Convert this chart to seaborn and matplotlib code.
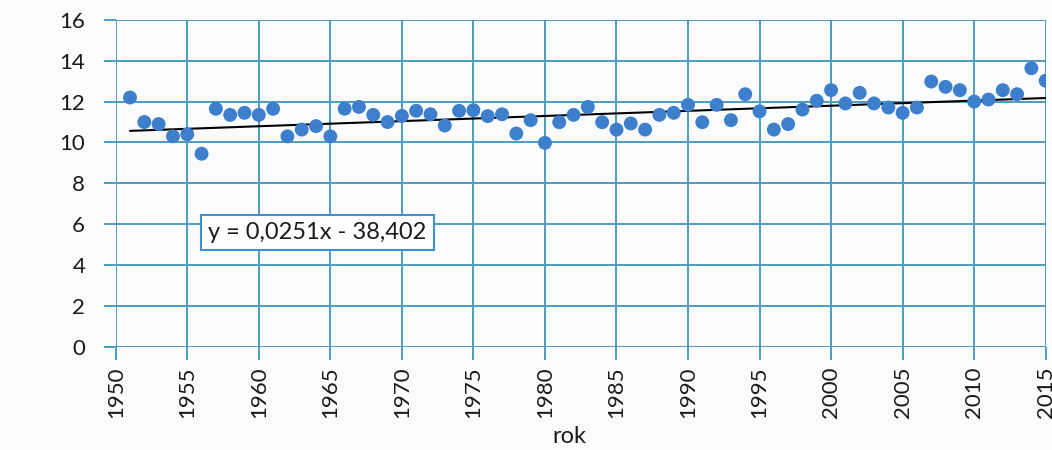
import numpy as np
import pandas as pd
import matplotlib
matplotlib.use("Agg")
import matplotlib.pyplot as plt
import seaborn as sns

years = list(range(1951, 2016))
values = [12.2, 11.0, 10.9, 10.3, 10.4, 9.45, 11.65, 11.35, 11.45, 11.35,
          11.65, 10.3, 10.63, 10.8, 10.3, 11.65, 11.74, 11.35, 11.0, 11.3,
          11.55, 11.38, 10.83, 11.55, 11.58, 11.29, 11.38, 10.44, 11.09, 9.98,
          10.99, 11.35, 11.74, 10.99, 10.63, 10.93, 10.63, 11.35, 11.45, 11.84,
          10.99, 11.84, 11.09, 12.36, 11.52, 10.63, 10.9, 11.61, 12.04, 12.56,
          11.91, 12.43, 11.91, 11.71, 11.45, 11.71, 12.98, 12.72, 12.56, 12.0,
          12.1, 12.56, 12.36, 13.63, 13.02]
slope = 0.0251
intercept = -38.402
equation_label = "y = 0,0251x - 38,402"
x_ticks = list(range(1950, 2016, 5))
y_ticks = list(range(0, 17, 2))
x_label = "rok"

df = pd.DataFrame({"rok": years, "val": values})
trend = pd.DataFrame({"rok": [years[0], years[-1]]})
trend["val"] = slope * trend["rok"] + intercept

sns.set_theme(style="whitegrid")
plt.rcParams['font.family'] = ['Lato', 'DejaVu Sans']

grid_color = "#4f9cbf"
text_color = "#1a1a1a"
fig = plt.figure(figsize=(10.52, 4.50), dpi=100)
fig.patch.set_facecolor("#fafbfd")
ax = fig.add_axes([0.110, 0.229, 0.884, 0.727])
ax.set_facecolor("#fafbfd")

sns.scatterplot(data=df, x="rok", y="val", ax=ax, color="#3d7fcc", s=100,
                edgecolor="none", zorder=3)
sns.lineplot(data=trend, x="rok", y="val", ax=ax, color="black", lw=1.5, zorder=2)

ax.set_xlim(1950, 2015)
ax.set_ylim(0, 16)
ax.set_xticks(x_ticks)
ax.set_yticks(y_ticks)
ax.set_xticklabels([str(t) for t in x_ticks], rotation=90, fontsize=16, color=text_color)
ax.set_yticklabels([str(t) for t in y_ticks], fontsize=16, color=text_color)
ax.grid(True, color=grid_color, lw=1.4)
for s in ax.spines.values():
    s.set_visible(False)
ax.tick_params(axis="both", length=9, width=1.4, color=grid_color)
ax.tick_params(axis="x", bottom=True, pad=5)
ax.tick_params(axis="y", left=True, pad=13)
ax.set_xlabel(x_label, fontsize=17, color=text_color)
ax.xaxis.set_label_coords(0.488, -0.243)
ax.set_ylabel("")

ax.text(1964.1, 5.6, equation_label, fontsize=17, color=text_color,
        ha="center", va="center",
        bbox=dict(boxstyle="square,pad=0.3", facecolor="white",
                  edgecolor="#3d8fd6", lw=1.5))

fig.savefig("out.png", dpi=100, facecolor=fig.get_facecolor())
